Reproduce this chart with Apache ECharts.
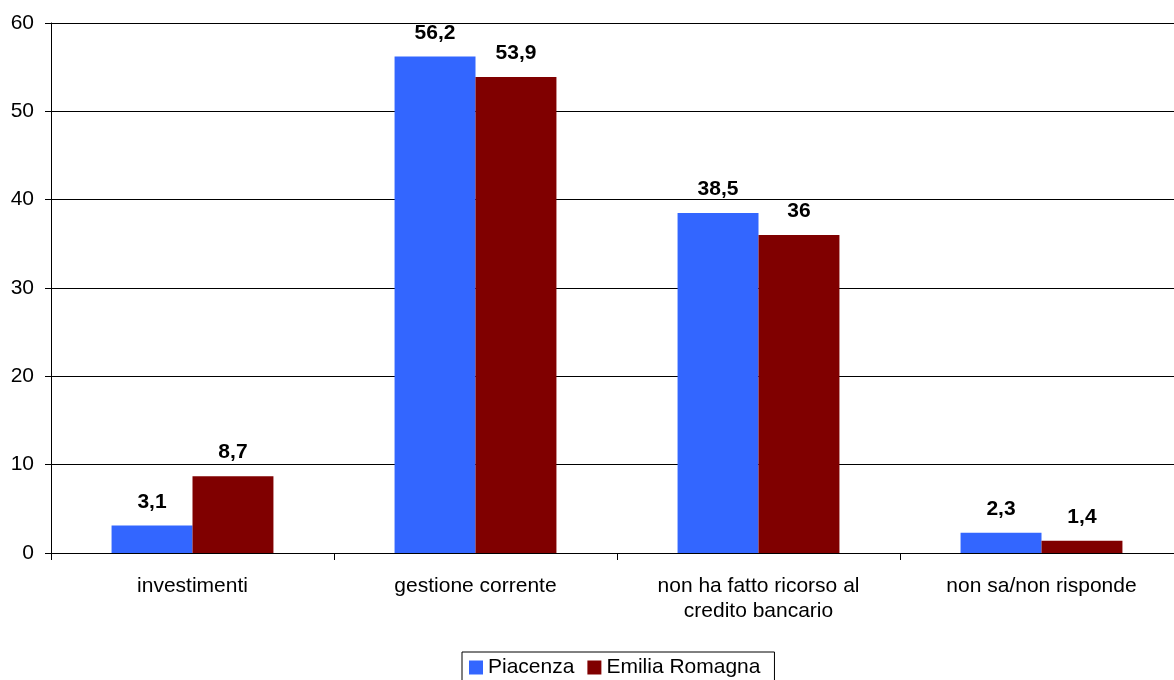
<!DOCTYPE html>
<html>
<head>
<meta charset="utf-8">
<script src="https://cdn.jsdelivr.net/npm/echarts@6/dist/echarts.min.js"></script>
<style>
  html, body { margin: 0; padding: 0; background: #fff; }
  #chart { width: 1174px; height: 680px; }
</style>
</head>
<body>
<div id="chart"></div>
<script>
// Categories, series and axis ticks
const categories = ['investimenti', 'gestione corrente', 'non ha fatto ricorso al\ncredito bancario', 'non sa/non risponde'];
const piacenza = [3.1, 56.2, 38.5, 2.3];
const emiliaRomagna = [8.7, 53.9, 36, 1.4];
const yTicks = { min: 0, max: 60, interval: 10 };

const font = 'Liberation Sans, Arial, sans-serif';
const fmt = p => String(p.value).replace('.', ',');

const chart = echarts.init(document.getElementById('chart'));
chart.setOption({
  animation: false,
  textStyle: { fontFamily: font },
  // plot area runs slightly past the right edge of the canvas
  grid: { left: 51, width: 1132, top: 23, height: 530, outerBoundsMode: 'none', containLabel: false },
  legend: {
    top: 652,
    left: 462,
    itemWidth: 14, itemHeight: 14, itemGap: 13,
    icon: 'rect',
    borderColor: '#000', borderWidth: 1,
    padding: [5, 14, 5, 7],
    textStyle: { fontSize: 21, color: '#000', fontFamily: font },
    data: ['Piacenza', 'Emilia Romagna']
  },
  xAxis: {
    type: 'category',
    data: categories,
    axisLine: { lineStyle: { color: '#000', width: 1 } },
    axisTick: { show: true, length: 7, lineStyle: { color: '#000' } },
    axisLabel: { fontSize: 21, color: '#000', margin: 21, lineHeight: 25, interval: 0 }
  },
  yAxis: {
    type: 'value',
    min: yTicks.min, max: yTicks.max, interval: yTicks.interval,
    axisLine: { show: true, lineStyle: { color: '#000', width: 1 } },
    axisTick: { show: true, length: 6, lineStyle: { color: '#000' } },
    axisLabel: { fontSize: 21, color: '#000', margin: 17 },
    splitLine: { lineStyle: { color: '#000', width: 1 } }
  },
  series: [
    {
      name: 'Piacenza', type: 'bar', data: piacenza,
      barGap: '0%', barCategoryGap: '42.8%',
      itemStyle: { color: '#3366FF' },
      label: { show: true, position: 'top', distance: 13, fontSize: 21, fontWeight: 'bold', color: '#000', formatter: fmt }
    },
    {
      name: 'Emilia Romagna', type: 'bar', data: emiliaRomagna,
      barGap: '0%', barCategoryGap: '42.8%',
      itemStyle: { color: '#800000' },
      label: { show: true, position: 'top', distance: 13, fontSize: 21, fontWeight: 'bold', color: '#000', formatter: fmt }
    }
  ]
});
</script>
</body>
</html>
